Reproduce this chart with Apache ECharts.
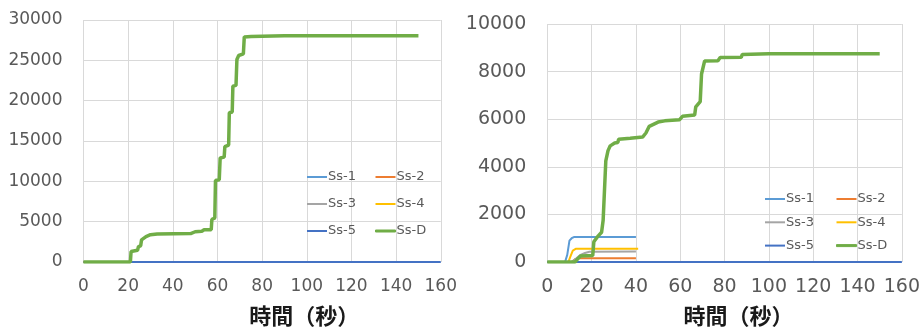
<!DOCTYPE html>
<html>
<head>
<meta charset="utf-8">
<script src="https://cdn.jsdelivr.net/npm/echarts@6/dist/echarts.min.js"></script>
<style>
  html, body { margin: 0; padding: 0; background: #fff; }
  #wrap { width: 923px; height: 332px; position: relative; }
  #left { position: absolute; left: 0; top: 0; width: 460px; height: 332px; }
  #right { position: absolute; left: 460px; top: 0; width: 463px; height: 332px; }
</style>
</head>
<body>
<div id="wrap">
  <div id="left"></div>
  <div id="right"></div>
</div>
<script>
const seriesNames = ["Ss-1", "Ss-2", "Ss-3", "Ss-4", "Ss-5", "Ss-D"];
const seriesColors = ["#5B9BD5", "#ED7D31", "#A5A5A5", "#FFC000", "#4472C4", "#70AD47"];
const xTicks = [0, 20, 40, 60, 80, 100, 120, 140, 160];
const axisTitle = "時間（秒）";

// left chart: [time (s), value]
const leftSs1 = [[0, 0], [150, 0]];
const leftSs2 = [[0, 0], [150, 0]];
const leftSs3 = [[0, 0], [150, 0]];
const leftSs4 = [[0, 0], [150, 0]];
const leftSs5 = [[0, 0], [160, 0]];
const leftSsD = [
  [0, 0], [21, 0], [21.3, 1300], [24.2, 1450], [24.6, 1900], [25.6, 2000], [26, 2750],
  [28, 3150], [30, 3380], [33, 3480], [48, 3520], [50, 3750], [53, 3820], [54, 4000],
  [57.2, 4000], [57.5, 5300], [58.8, 5450], [59.1, 10100], [60.8, 10200], [61.2, 12900],
  [63, 13000], [63.3, 14300], [65, 14500], [65.3, 18500], [66.6, 18600], [66.9, 21800],
  [68.3, 21900], [68.7, 25100], [69.5, 25600], [71.6, 25800], [72, 27900], [75, 27950],
  [80, 28000], [90, 28050], [150, 28050]
];

// right chart: [time (s), value]
const rightSs1 = [[0, 0], [8, 0], [9, 300], [10, 900], [11, 1000], [12, 1050], [40, 1050]];
const rightSs2 = [[0, 0], [11, 0], [12.5, 120], [14, 160], [40, 160]];
const rightSs3 = [[0, 0], [11, 0], [13, 150], [15, 300], [17, 380], [19, 430], [40, 440]];
const rightSs4 = [[0, 0], [9.5, 0], [10.5, 250], [11.5, 480], [13, 560], [41, 560]];
const rightSs5 = [[0, 0], [160, 0]];
const rightSsD = [
  [0, 0], [12.5, 0], [14, 160], [15, 250], [20.5, 270], [21, 850], [23, 1100], [24.5, 1250],
  [25.2, 1750], [26.4, 4250], [27.4, 4680], [28.4, 4880], [30.4, 5000], [31.8, 5020],
  [32.2, 5160], [37.4, 5200], [43, 5250], [44.5, 5420], [46, 5700], [50, 5880], [53, 5930],
  [59.7, 5980], [61, 6120], [66.5, 6180], [67, 6520], [69, 6740], [69.6, 7900], [71, 8450],
  [77, 8460], [78, 8590], [87.5, 8600], [88, 8720], [100, 8750], [150, 8750]
];

function legendItem(name) {
  // Ss-D gets a thicker key line, like its series line
  if (name === "Ss-D") {
    return { name: name, itemStyle: { borderWidth: 1, borderColor: seriesColors[5] } };
  }
  return { name: name };
}

function buildOption(cfg) {
  const legendText = { color: "#595959", fontSize: cfg.legendFont, fontFamily: "DejaVu Sans", lineHeight: 14, padding: [0, 0, 0, -4] };
  const legendBase = {
    orient: "vertical", top: cfg.legendTop, icon: "rect",
    itemWidth: 20, itemHeight: 2, itemGap: cfg.legendGap, textStyle: legendText
  };
  return {
    animation: false,
    backgroundColor: "#fff",
    grid: cfg.grid,
    legend: [
      Object.assign({ left: cfg.legendLeft[0], data: ["Ss-1", "Ss-3", "Ss-5"].map(legendItem) }, legendBase),
      Object.assign({ left: cfg.legendLeft[1], data: ["Ss-2", "Ss-4", "Ss-D"].map(legendItem) }, legendBase)
    ],
    xAxis: {
      type: "value", min: 0, max: 160, interval: 20,
      name: axisTitle, nameLocation: "middle", nameGap: 43,
      nameTextStyle: { color: "#1a1a1a", fontSize: 22, fontWeight: "bold", fontFamily: "Noto Sans CJK JP", padding: cfg.namePad },
      axisLine: { show: false }, axisTick: { show: false },
      axisLabel: { color: "#595959", fontSize: cfg.tickFont, fontFamily: "DejaVu Sans", margin: 16 },
      splitLine: { show: true, lineStyle: { color: "#d9d9d9", width: 1 } }
    },
    yAxis: {
      type: "value", min: 0, max: cfg.yMax, interval: cfg.yStep,
      axisLine: { show: false }, axisTick: { show: false },
      axisLabel: { color: "#595959", fontSize: cfg.tickFont, fontFamily: "DejaVu Sans", margin: 21, formatter: (v) => String(v) },
      splitLine: { show: true, lineStyle: { color: "#d9d9d9", width: 1 } }
    },
    series: cfg.data.map((d, i) => ({
      name: seriesNames[i], type: "line", data: d,
      symbol: "none", color: seriesColors[i],
      lineStyle: { width: i === 5 ? 3.5 : 2, color: seriesColors[i] },
      z: 2 + i
    }))
  };
}

const leftChart = echarts.init(document.getElementById("left"));
leftChart.setOption(buildOption({
  grid: { left: 83.5, right: 14, top: 20, bottom: 65 },
  yMax: 30000, yStep: 5000, tickFont: 17, legendFont: 13,
  legendLeft: [302, 370], legendTop: 165, legendGap: 13, namePad: [0, 0, 0, 84],
  data: [leftSs1, leftSs2, leftSs3, leftSs4, leftSs5, leftSsD]
}));

const rightChart = echarts.init(document.getElementById("right"));
rightChart.setOption(buildOption({
  grid: { left: 87.3, right: 20.3, top: 24, bottom: 64.7 },
  yMax: 10000, yStep: 2000, tickFont: 19, legendFont: 13,
  legendLeft: [300, 371], legendTop: 187, legendGap: 9.3, namePad: [0, 0, 0, 28],
  data: [rightSs1, rightSs2, rightSs3, rightSs4, rightSs5, rightSsD]
}));
</script>
</body>
</html>
